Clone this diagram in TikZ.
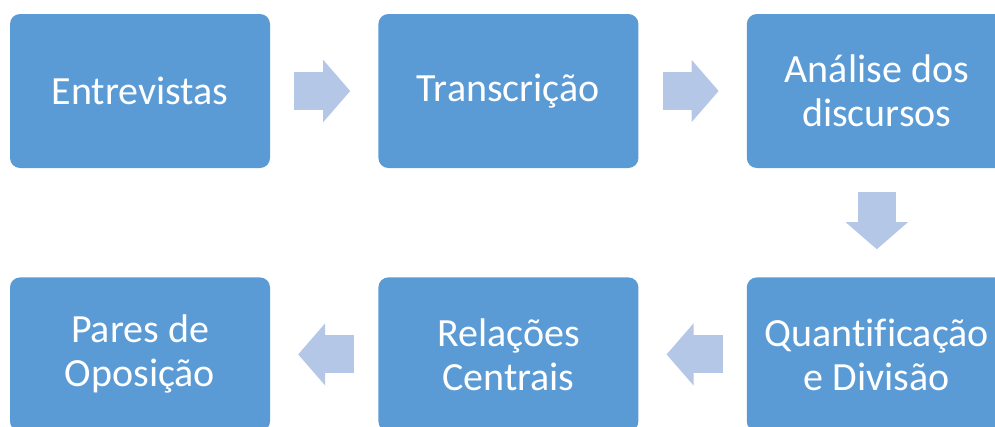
\documentclass[tikz,border=0pt]{standalone}
\usepackage{fontspec}
\setmainfont{Carlito}[Ligatures=CommonOff]
\usepackage{tikz}
\usetikzlibrary{positioning}
\usetikzlibrary{arrows.meta}
\definecolor{boxblue}{HTML}{5B9BD5}
\definecolor{arrowblue}{HTML}{B4C7E7}
\tikzset{>={Triangle[length=27pt,width=62pt,line width=1.5pt]}}
\tikzstyle{rounded-box}=[rectangle, rounded corners=10pt, fill=boxblue, minimum width=260pt, minimum height=154pt, inner sep=0pt, text=white, align=center, font=\fontsize{40}{44}\selectfont]
\tikzstyle{block-arrow}=[->, draw=arrowblue, line width=38pt, shorten <=24pt, shorten >=28pt]

\begin{document}
\begin{tikzpicture}[x=1pt, y=1pt, node distance=108pt and 108pt]
	\clip (0,0) rectangle (995,-426);

	\node[rounded-box] (entrevistas) at (140,-91) {Entrevistas};
	\node[rounded-box] (transcricao) [right=of entrevistas] {Transcrição};
	\node[rounded-box] (analise) [right=of transcricao] {Análise dos\\discursos};

	\node[rounded-box] (quantificacao) [below=109pt of analise] {Quantificação\\e Divisão};
	\node[rounded-box] (relacoes) [left=of quantificacao] {Relações\\Centrais};
	\node[rounded-box] (pares) [left=of relacoes] {Pares de\\Oposição};

	\draw[block-arrow] (entrevistas.east) -- (transcricao.west);
	\draw[block-arrow] (transcricao.east) -- (analise.west);
	\draw[block-arrow] (analise.south) -- (quantificacao.north);
	\draw[block-arrow] (quantificacao.west) -- (relacoes.east);
	\draw[block-arrow] (relacoes.west) -- (pares.east);
\end{tikzpicture}
\end{document}
